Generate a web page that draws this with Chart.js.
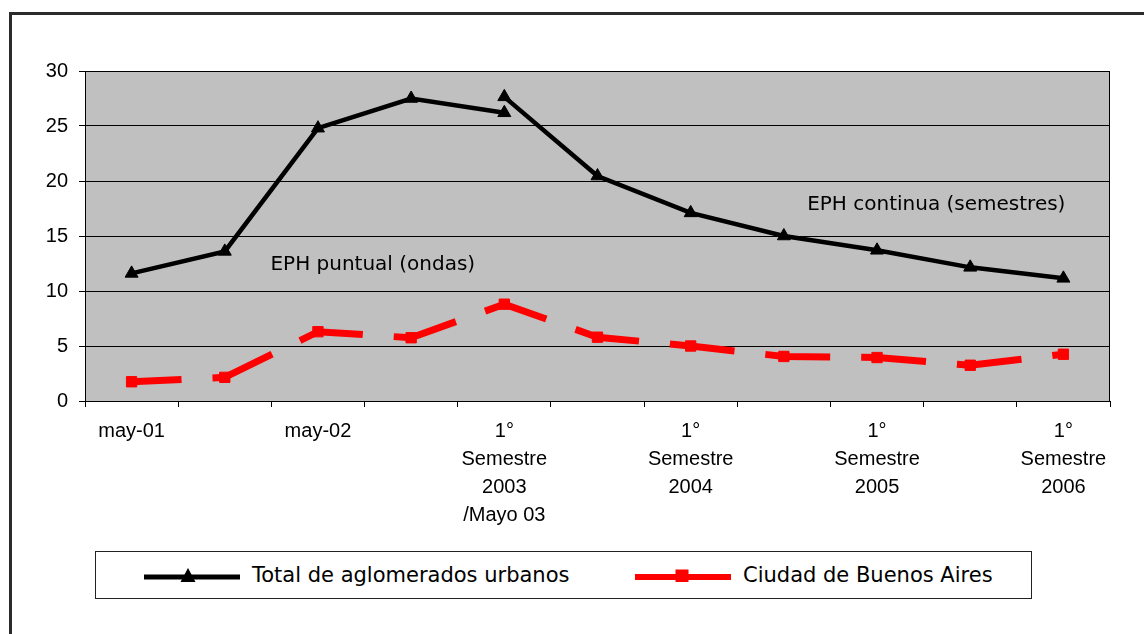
<!DOCTYPE html>
<html>
<head>
<meta charset="utf-8">
<script src="https://cdn.jsdelivr.net/npm/chart.js@4.4.1/dist/chart.umd.min.js"></script>
<style>
  html, body { margin: 0; padding: 0; background: #fff; overflow: hidden; }
  #wrap { position: relative; width: 1144px; height: 634px; }
  #frame { position: absolute; left: 9px; top: 12px; width: 2000px; height: 2000px; border: 3px solid #2b2b2b; box-sizing: border-box; }
  canvas { position: absolute; left: 0; top: 0; }
  #legend { position: absolute; left: 95px; top: 551px; width: 937px; height: 48px; border: 1px solid #222; box-sizing: border-box; background: #fff; }
  .lg-text { position: absolute; top: 551px; height: 48px; line-height: 48px; font-family: "DejaVu Sans", sans-serif; font-size: 21px; color: #000; white-space: nowrap; }
  .lg-sym { position: absolute; }
</style>
</head>
<body>
<div id="wrap">
  <div id="frame"></div>
  <canvas id="c" width="1144" height="634"></canvas>
  <div id="legend"></div>
  <svg class="lg-sym" style="left:144px;top:566px" width="96" height="18">
    <rect x="0" y="8.5" width="96" height="5" fill="#000"/>
    <polygon points="44,2 51.5,16 36.5,16" fill="#000"/>
  </svg>
  <span class="lg-text" style="left:252px">Total de aglomerados urbanos</span>
  <svg class="lg-sym" style="left:635px;top:566px" width="96" height="18">
    <rect x="0" y="8" width="96" height="6" fill="#ff0000"/>
    <rect x="40.5" y="3.5" width="13" height="12.5" fill="#ff0000"/>
  </svg>
  <span class="lg-text" style="left:743px">Ciudad de Buenos Aires</span>
</div>
<script>
// ---- data ----
const categories = [
  'may-01', '', 'may-02', '',
  ['1°', 'Semestre', '2003', '/Mayo 03'], '',
  ['1°', 'Semestre', '2004'], '',
  ['1°', 'Semestre', '2005'], '',
  ['1°', 'Semestre', '2006']
];
const totalOndas = [11.6, 13.6, 24.8, 27.5, 26.2, null, null, null, null, null, null];
const totalSemestres = [null, null, null, null, 27.65, 20.45, 17.1, 15.0, 13.7, 12.15, 11.15];
const caba = [1.75, 2.15, 6.3, 5.75, 8.8, 5.8, 5.0, 4.05, 3.95, 3.25, 4.25];
const yTicks = [0, 5, 10, 15, 20, 25, 30];
const seriesNames = ['Total de aglomerados urbanos', 'Ciudad de Buenos Aires'];
const notes = [
  { text: 'EPH puntual (ondas)', cat: 1.49, value: 12.36 },
  { text: 'EPH continua (semestres)', cat: 7.25, value: 17.8 }
];

const plotDeco = {
  id: 'plotDeco',
  beforeDraw(chart) {
    const { ctx, chartArea: a } = chart;
    ctx.save();
    ctx.fillStyle = '#c0c0c0';
    ctx.fillRect(a.left, a.top, a.right - a.left, a.bottom - a.top);
    ctx.restore();
  },
  beforeDatasetsDraw(chart) {
    const { ctx, chartArea: a, scales } = chart;
    ctx.save();
    ctx.strokeStyle = '#000';
    ctx.lineWidth = 1;
    ctx.strokeRect(Math.round(a.left) + 0.5, Math.round(a.top) + 0.5,
      Math.round(a.right - a.left) - 1, Math.round(a.bottom - a.top));
    ctx.fillStyle = '#000';
    ctx.font = '20px "DejaVu Sans", sans-serif';
    ctx.textBaseline = 'middle';
    ctx.textAlign = 'left';
    notes.forEach(n => {
      const x = scales.x.getPixelForValue(n.cat);
      const y = scales.y.getPixelForValue(n.value);
      ctx.fillText(n.text, x, y);
    });
    ctx.restore();
  }
};

new Chart(document.getElementById('c'), {
  type: 'line',
  data: {
    labels: categories,
    datasets: [
      {
        label: seriesNames[0], data: totalOndas,
        borderColor: '#000', backgroundColor: '#000', borderWidth: 4.5,
        pointStyle: 'triangle', pointRadius: 7.5, pointBorderWidth: 1,
        pointBackgroundColor: '#000', pointBorderColor: '#000',
        tension: 0, spanGaps: false, order: 1
      },
      {
        label: seriesNames[0], data: totalSemestres,
        borderColor: '#000', backgroundColor: '#000', borderWidth: 4.5,
        pointStyle: 'triangle', pointRadius: 7.5, pointBorderWidth: 1,
        pointBackgroundColor: '#000', pointBorderColor: '#000',
        tension: 0, spanGaps: false, order: 1
      },
      {
        label: seriesNames[1], data: caba,
        borderColor: '#ff0000', backgroundColor: '#ff0000', borderWidth: 7,
        borderDash: [65, 31], borderDashOffset: 15, borderCapStyle: 'butt',
        pointStyle: 'rect', pointRadius: 7.3, pointBorderWidth: 1,
        pointBackgroundColor: '#ff0000', pointBorderColor: '#ff0000',
        tension: 0, order: 2
      }
    ]
  },
  options: {
    responsive: false,
    animation: false,
    events: [],
    layout: { padding: { left: 0, top: 71, right: 34, bottom: 0 } },
    plugins: { legend: { display: false }, tooltip: { enabled: false } },
    scales: {
      x: {
        offset: true,
        afterFit(s) { s.height = 233; },
        grid: { offset: true, drawOnChartArea: false, drawTicks: true, tickLength: 6, color: '#000', lineWidth: 1 },
        border: { display: true, color: '#000', width: 1 },
        ticks: {
          autoSkip: false, maxRotation: 0, minRotation: 0, padding: 10,
          color: '#000',
          font: { family: '"Liberation Sans", Arial, sans-serif', size: 20, lineHeight: 1.4 }
        }
      },
      y: {
        min: 0, max: 30,
        afterFit(s) { s.width = 85; },
        afterBuildTicks(s) { s.ticks = yTicks.map(v => ({ value: v })); },
        grid: { drawOnChartArea: true, drawTicks: true, tickLength: 6, color: '#000', lineWidth: 1 },
        border: { display: true, color: '#000', width: 1 },
        ticks: {
          padding: 11, color: '#000',
          font: { family: '"Liberation Sans", Arial, sans-serif', size: 20 }
        }
      }
    }
  },
  plugins: [plotDeco]
});
</script>
</body>
</html>
